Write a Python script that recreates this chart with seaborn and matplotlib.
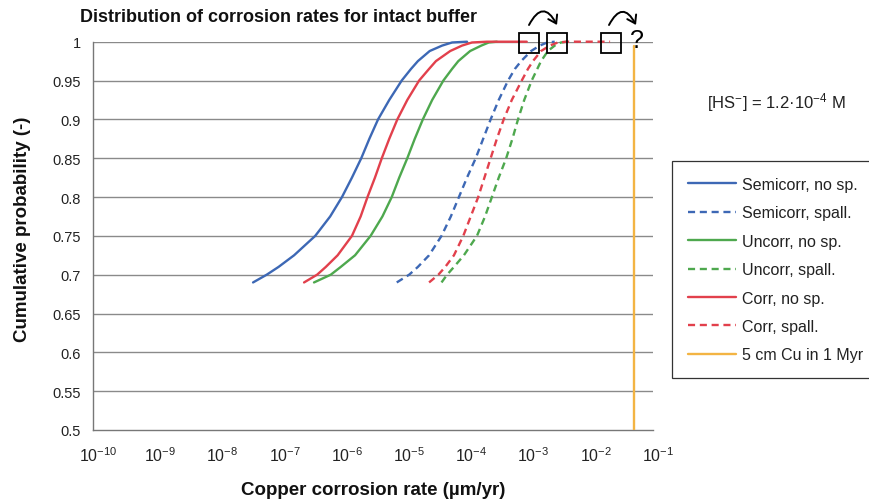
import numpy as np
import pandas as pd
import matplotlib
matplotlib.use("Agg")
import matplotlib.pyplot as plt
from matplotlib.patches import Rectangle, FancyArrowPatch
from matplotlib.lines import Line2D
from matplotlib.transforms import ScaledTranslation
import seaborn as sns

# ---------------- data ----------------
# cumulative probability levels at which each curve was read
prob = [0.69, 0.70, 0.71, 0.725, 0.75, 0.775, 0.80, 0.825, 0.85, 0.875,
        0.90, 0.925, 0.95, 0.965, 0.975, 0.988, 0.995, 0.999, 1.0]

# log10 of copper corrosion rate (um/yr) at those probability levels
semicorr_nosp_log = [-7.43, -7.21, -7.02, -6.77, -6.43, -6.19, -6.00, -5.84, -5.69, -5.56,
                     -5.42, -5.24, -5.04, -4.89, -4.78, -4.59, -4.39, -4.23, -3.99]
corr_nosp_log = [-6.61, -6.40, -6.26, -6.07, -5.84, -5.70, -5.59, -5.47, -5.36, -5.24,
                 -5.11, -4.95, -4.76, -4.60, -4.49, -4.26, -4.07, -3.91, -3.67]
uncorr_nosp_log = [-6.45, -6.18, -6.02, -5.79, -5.54, -5.35, -5.20, -5.08, -4.95, -4.83,
                   -4.70, -4.55, -4.37, -4.23, -4.13, -3.94, -3.76, -3.64, -3.51]
semicorr_spall_log = [-5.12, -4.92, -4.78, -4.60, -4.40, -4.25, -4.12, -3.99, -3.85, -3.73,
                      -3.61, -3.48, -3.33, -3.22, -3.12, -2.96, -2.82, -2.70, -2.58]
corr_spall_log = [-4.60, -4.45, -4.34, -4.20, -4.05, -3.93, -3.81, -3.71, -3.61, -3.51,
                  -3.40, -3.27, -3.11, -3.01, -2.93, -2.80, -2.66, -2.53, -2.38]
uncorr_spall_log = [-4.40, -4.31, -4.20, -4.04, -3.83, -3.70, -3.59, -3.48, -3.36, -3.26,
                    -3.17, -3.07, -2.95, -2.86, -2.80, -2.69, -2.58, -2.48, -2.38]

# flat continuation at P = 1 (log10 of rate where it ends)
corr_nosp_tail_log = -3.03
corr_spall_tail_log = -1.69

cu_limit_x = [0.05, 0.05]          # 5 cm in 1 Myr = 0.05 um/yr
cu_limit_y = [0.5, 0.995]

box_centers = [1.0e-3, 2.9e-3, 2.1e-2]

x_ticks = [1e-10, 1e-9, 1e-8, 1e-7, 1e-6, 1e-5, 1e-4, 1e-3, 1e-2, 1e-1]
x_ticklabels = ["$10^{-10}$", "$10^{-9}$", "$10^{-8}$", "$10^{-7}$", "$10^{-6}$",
                "$10^{-5}$", "$10^{-4}$", "$10^{-3}$", "$10^{-2}$", "$10^{-1}$"]
y_ticks = [0.5, 0.55, 0.6, 0.65, 0.7, 0.75, 0.8, 0.85, 0.9, 0.95, 1.0]
y_ticklabels = ["0.5", "0.55", "0.6", "0.65", "0.7", "0.75", "0.8", "0.85", "0.9", "0.95", "1"]

labels = ["Semicorr, no sp.", "Semicorr, spall.", "Uncorr, no sp.", "Uncorr, spall.",
          "Corr, no sp.", "Corr, spall.", "5 cm Cu in 1 Myr"]

BLUE = "#3d68b5"
GREEN = "#4ea84e"
RED = "#e2404c"
ORANGE = "#f3b443"
DASH = (3.0, 2.0)

# ---------------- style ----------------
sns.set_theme(style="white")
plt.rcParams["font.family"] = ["Liberation Sans", "DejaVu Sans"]
plt.rcParams["mathtext.default"] = "regular"

fig = plt.figure(figsize=(8.69, 5.02), dpi=100)
W, H = 869, 502
ax = fig.add_axes([93.2 / W, 1 - 431 / H, (653 - 93.2) / W, (431 - 42.7) / H])

series = [
    (semicorr_nosp_log, None, labels[0], BLUE, "-"),
    (semicorr_spall_log, None, labels[1], BLUE, "--"),
    (uncorr_nosp_log, None, labels[2], GREEN, "-"),
    (uncorr_spall_log, None, labels[3], GREEN, "--"),
    (corr_nosp_log, corr_nosp_tail_log, labels[4], RED, "-"),
    (corr_spall_log, corr_spall_tail_log, labels[5], RED, "--"),
]

for logs, tail, name, col, ls in series:
    lx = list(logs)
    ps = list(prob)
    if tail is not None:
        lx.append(tail)
        ps.append(1.0)
    df = pd.DataFrame({"rate": 10.0 ** np.array(lx), "p": ps, "series": name})
    sns.lineplot(data=df, x="rate", y="p", ax=ax, color=col, linewidth=1.7,
                 sort=False, estimator=None, legend=False, clip_on=False, zorder=3)
    if ls == "--":
        ax.lines[-1].set_dashes(DASH)

sns.lineplot(x=cu_limit_x, y=cu_limit_y, ax=ax, color=ORANGE, linewidth=1.7,
             sort=False, estimator=None, legend=False, zorder=3)

ax.set_xscale("log")
ax.set_xlim(1e-10, 1e-1)
ax.set_ylim(0.5, 1.0)
ax.set_xticks(x_ticks)
ax.set_xticklabels(x_ticklabels, fontsize=11.5)
ax.minorticks_off()
ax.set_yticks(y_ticks)
ax.set_yticklabels(y_ticklabels, fontsize=10.5)
ax.tick_params(axis="both", which="major", direction="out", length=4, width=0.8,
               color="#555555", labelcolor="#222222", pad=5)
ax.tick_params(axis="x", pad=7)
shift = ScaledTranslation(5 / 100, 0, fig.dpi_scale_trans)
for lab in ax.get_xticklabels():
    lab.set_transform(lab.get_transform() + shift)

for yv in y_ticks[1:]:
    ax.axhline(yv, color="#8a8a8a", linewidth=1.0, zorder=1)

for s in ["top", "right"]:
    ax.spines[s].set_visible(False)
for s in ["left", "bottom"]:
    ax.spines[s].set_color("#777777")
    ax.spines[s].set_linewidth(1.0)

ax.set_xlabel("Copper corrosion rate (\u00b5m/yr)", fontsize=13.5, fontweight="bold",
              color="#111111", labelpad=12)
ax.set_ylabel("Cumulative probability (-)", fontsize=13.5, fontweight="bold",
              color="#111111")
ax.yaxis.set_label_coords(-0.111, 0.52)

fig.text(80 / W, 1 - 17 / H, "Distribution of corrosion rates for intact buffer",
         fontsize=13, fontweight="bold", ha="left", va="center", color="#111111")

fig.text(707 / W, 1 - 103 / H, "[HS$^{-}$] = 1.2\u00b710$^{-4}$ M",
         fontsize=12, ha="left", va="center", color="#222222")

# boxes on the P = 1 line
bw = 20 / W
bh = 20 / H
for cx in box_centers:
    disp = ax.transData.transform((cx, 1.0))
    fx, fy = fig.transFigure.inverted().transform(disp)
    fig.add_artist(Rectangle((fx - bw / 2, fy - bh / 2 - 0.002), bw, bh, fill=False,
                             edgecolor="black", linewidth=1.3, transform=fig.transFigure,
                             zorder=5))

fig.text(636.5 / W, 1 - 41 / H, "?", fontsize=18, ha="center", va="center", color="black")

for (x0, x1) in [(529, 557), (609, 636)]:
    arr = FancyArrowPatch((x0 / W, 1 - 26 / H), (x1 / W, 1 - 26 / H),
                          transform=fig.transFigure, connectionstyle="arc3,rad=-0.95",
                          arrowstyle="->,head_length=0.45,head_width=0.3", linewidth=1.4,
                          color="black", mutation_scale=12, shrinkA=0, shrinkB=0)
    fig.add_artist(arr)

# legend
handles = [
    Line2D([], [], color=BLUE, lw=1.7),
    Line2D([], [], color=BLUE, lw=1.7, dashes=DASH),
    Line2D([], [], color=GREEN, lw=1.7),
    Line2D([], [], color=GREEN, lw=1.7, dashes=DASH),
    Line2D([], [], color=RED, lw=1.7),
    Line2D([], [], color=RED, lw=1.7, dashes=DASH),
    Line2D([], [], color=ORANGE, lw=1.7),
]
leg = fig.legend(handles, labels, loc="upper left", bbox_to_anchor=(672 / W, 1 - 162 / H),
                 bbox_transform=fig.transFigure, fontsize=11.5, frameon=True,
                 fancybox=False, edgecolor="black", handlelength=3.0,
                 handletextpad=0.4, labelspacing=0.84, borderpad=1.0, borderaxespad=0)
leg.get_frame().set_linewidth(0.9)
for t in leg.get_texts():
    t.set_color("#222222")

fig.savefig("out.png", dpi=100)
